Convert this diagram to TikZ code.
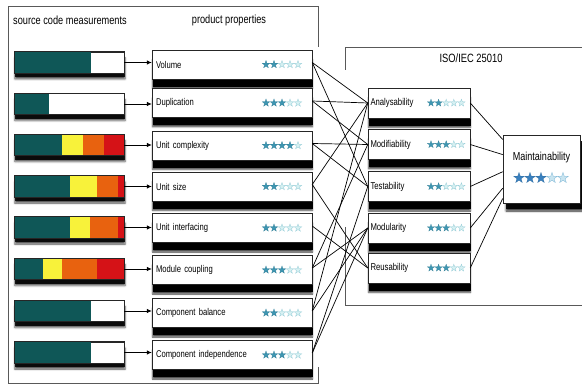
\documentclass[tikz,border=0pt]{standalone}
\usepackage{fontspec}
\setmainfont{Liberation Sans}
\newfontfamily\narrowsans{Liberation Sans}[FakeStretch=0.78]
\usetikzlibrary{shadows,shadows.blur,arrows.meta,calc}

\definecolor{barteal}{HTML}{0F5757}
\definecolor{baryellow}{HTML}{F8F23A}
\definecolor{barorange}{HTML}{E8620F}
\definecolor{barred}{HTML}{D51217}
\definecolor{starfull}{RGB}{62,150,178}
\definecolor{starempty}{RGB}{214,240,242}
\definecolor{staredge}{RGB}{150,205,215}
\definecolor{bigstarfull}{RGB}{58,128,190}
\definecolor{bigstarempty}{RGB}{200,228,240}
\definecolor{bigstaredge}{RGB}{130,185,215}

\tikzset{
  frame/.style={draw=black!65, line width=.8pt},
  meter/.style={draw=black!85, line width=.5pt, fill=white, inner sep=0pt,
    minimum width=110pt, minimum height=21pt,
    blur shadow={shadow xshift=1pt, shadow yshift=-6pt, shadow opacity=70, shadow blur steps=4, shadow blur radius=2pt},
    drop shadow={shadow xshift=.5pt, shadow yshift=-4.5pt, fill=black, opacity=.85}},
  meterline/.style={draw=black!85, line width=.5pt},
  prop/.style={draw=black!85, line width=.5pt, fill=white,
    minimum width=160pt, minimum height=29pt, inner ysep=0pt, inner xsep=4pt,
    text width=152pt, align=left,
    font=\narrowsans\fontsize{9.8}{10}\selectfont,
    blur shadow={shadow xshift=.5pt, shadow yshift=-9.5pt, shadow opacity=70, shadow blur steps=4, shadow blur radius=1.5pt},
    drop shadow={shadow xshift=.5pt, shadow yshift=-8pt, fill=black, opacity=1}},
  charbox/.style={draw=black!85, line width=.5pt, fill=white,
    minimum width=102pt, minimum height=30pt, inner ysep=0pt, inner xsep=2.5pt,
    text width=97pt, align=left,
    font=\narrowsans\fontsize{9.9}{10}\selectfont,
    blur shadow={shadow xshift=.5pt, shadow yshift=-9.5pt, shadow opacity=70, shadow blur steps=4, shadow blur radius=1.5pt},
    drop shadow={shadow xshift=.5pt, shadow yshift=-8pt, fill=black, opacity=1}},
  mainbox/.style={draw=black!85, line width=.6pt, fill=white,
    minimum width=77pt, minimum height=68pt, inner sep=0pt,
    blur shadow={shadow xshift=3pt, shadow yshift=-8pt, shadow opacity=80, shadow blur steps=5, shadow blur radius=2pt},
    drop shadow={shadow xshift=2.5pt, shadow yshift=-6.5pt, fill=black, opacity=.9}},
  heading/.style={font=\narrowsans\fontsize{11.8}{12}\selectfont, inner sep=0pt},
  feed/.style={draw=black, line width=.7pt, -{Latex[length=5pt,width=4.5pt]}},
  link/.style={draw=black, line width=.7pt},
  pstar full/.style={fill=starfull, draw=starfull!85!black, line width=.2pt},
  pstar empty/.style={fill=starempty, draw=staredge, line width=.3pt},
  bstar full/.style={fill=bigstarfull, draw=bigstarfull!85!black, line width=.2pt},
  bstar empty/.style={fill=bigstarempty, draw=bigstaredge, line width=.3pt},
  pics/ratingstar/.style={code={
    \path[pic actions] (90:#1) -- (126:0.4*#1) -- (162:#1) -- (198:0.4*#1)
      -- (234:#1) -- (270:0.4*#1) -- (306:#1) -- (342:0.4*#1)
      -- (18:#1) -- (54:0.4*#1) -- cycle;}}
}

% a row of five rating stars: x of first, y, filled, radius, pitch, style prefix
\newcommand\starrow[6]{%
  \foreach \k in {1,...,5}{%
    \ifnum\k>#3\relax
      \pic[#6 empty] at ({#1+(\k-1)*#5},#2) {ratingstar=#4};
    \else
      \pic[#6 full] at ({#1+(\k-1)*#5},#2) {ratingstar=#4};
    \fi}}

% one coloured segment of a metric bar, offsets from the bar's left end
\newcommand\seg[4]{%
  \fill[#4] ($(#1.north west)+(#2,0)$) rectangle ($(#1.south west)+(#3,0)$);}

\begin{document}
\begin{tikzpicture}[x=1pt,y=-1pt]
\useasboundingbox (0,0) rectangle (582,390);

% frames
\draw[frame] (318,47) -- (318,6) -- (8,6) -- (8,383) -- (318,383) -- (318,367);
\draw[frame] (345,70) -- (345,47) -- (590,47);
\draw[frame] (345,227) -- (345,305) -- (590,305);

% headings
\node[heading] (hsrc) at (70,20) {source code measurements};
\node[heading] (hprop) at (229,20) {product properties};
\node[heading, font=\narrowsans\fontsize{12}{12}\selectfont] (hiso) at (471,58) {ISO/IEC 25010};

% metric bars
\node[meter] (m1) at (69,62.5) {};
\node[meter] (m2) at (69,104) {};
\node[meter] (m3) at (69,145) {};
\node[meter] (m4) at (69,186.5) {};
\node[meter] (m5) at (69,227.5) {};
\node[meter] (m6) at (69,269) {};
\node[meter] (m7) at (69,311) {};
\node[meter] (m8) at (69,352.5) {};

\seg{m1}{0}{77}{barteal}
\seg{m2}{0}{35}{barteal}
\seg{m3}{0}{48}{barteal}\seg{m3}{48}{69}{baryellow}\seg{m3}{69}{90}{barorange}\seg{m3}{90}{110}{barred}
\seg{m4}{0}{56}{barteal}\seg{m4}{56}{83}{baryellow}\seg{m4}{83}{104}{barorange}\seg{m4}{104}{110}{barred}
\seg{m5}{0}{56}{barteal}\seg{m5}{56}{76}{baryellow}\seg{m5}{76}{104}{barorange}\seg{m5}{104}{110}{barred}
\seg{m6}{0}{29}{barteal}\seg{m6}{29}{48}{baryellow}\seg{m6}{48}{83}{barorange}\seg{m6}{83}{110}{barred}
\seg{m7}{0}{77}{barteal}
\seg{m8}{0}{77}{barteal}
\foreach \m in {m1,m2,m3,m4,m5,m6,m7,m8}
  \draw[meterline] (\m.north west) rectangle (\m.south east);

% product properties
\node[prop] (p1) at (232,64.5) {Volume};
\node[prop] (p2) at (232,103) {Duplication};
\node[prop] (p3) at (232,145.5) {Unit complexity};
\node[prop] (p4) at (232,186.5) {Unit size};
\node[prop] (p5) at (232,228) {Unit interfacing};
\node[prop] (p6) at (232,270) {Module coupling};
\node[prop] (p7) at (232,313) {Component balance};
\node[prop] (p8) at (232,355) {Component independence};

\starrow{266}{64.5}{2}{4pt}{8}{pstar}
\starrow{266}{103}{3}{4pt}{8}{pstar}
\starrow{266}{145.5}{4}{4pt}{8}{pstar}
\starrow{266}{186.5}{2}{4pt}{8}{pstar}
\starrow{266}{228}{2}{4pt}{8}{pstar}
\starrow{266}{270}{3}{4pt}{8}{pstar}
\starrow{266}{313}{2}{4pt}{8}{pstar}
\starrow{266}{355}{3}{4pt}{8}{pstar}

% measurements feed properties
\foreach \i in {1,...,8}
  \draw[feed] (m\i.east) -- (m\i.east -| p\i.west);

% quality characteristics
\node[charbox] (c1) at (419,103) {Analysability};
\node[charbox] (c2) at (419,144.5) {Modifiability};
\node[charbox] (c3) at (419,186.5) {Testability};
\node[charbox] (c4) at (419,228) {Modularity};
\node[charbox] (c5) at (419,268) {Reusability};

\starrow{431}{103}{2}{3.8pt}{7.6}{pstar}
\starrow{431}{144.5}{3}{3.8pt}{7.6}{pstar}
\starrow{431}{186.5}{2}{3.8pt}{7.6}{pstar}
\starrow{431}{228}{3}{3.8pt}{7.6}{pstar}
\starrow{431}{268}{3}{3.8pt}{7.6}{pstar}

% maintainability
\node[mainbox] (mt) at (541.5,169) {};
\node[font=\narrowsans\fontsize{11.6}{12}\selectfont, inner sep=0pt] (mtlabel) at (541.5,158) {Maintainability};
\starrow{519}{178}{3}{5.6pt}{11}{bstar}

% property to characteristic mapping
\foreach \p/\c in {1/1,1/3,2/1,2/2,3/2,3/3,4/1,4/5,5/5,6/2,6/4,7/1,7/4,8/3,8/4}
  \draw[link] ($(p\p.east)+(0,-2)$) -- (c\c.west);

% characteristics to maintainability
\foreach \c/\f in {1/0.07,2/0.29,3/0.54,4/0.78,5/0.93}
  \draw[link] (c\c.east) -- ($(mt.north west)!\f!(mt.south west)$);

\end{tikzpicture}
\end{document}
